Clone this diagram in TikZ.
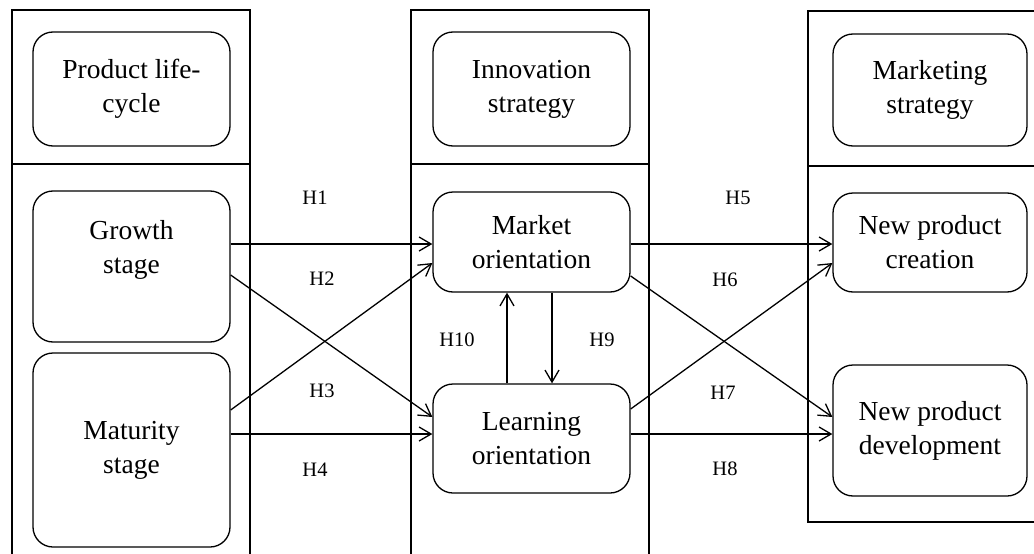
\documentclass[tikz,border=0pt]{standalone}
\usepackage{fontspec}
\setmainfont{Liberation Serif}
\usetikzlibrary{arrows.meta}
\begin{document}
\begin{tikzpicture}[x=1pt,y=-1pt,
  frame/.style={line width=1.3pt},
  rbox/.style={draw, line width=1.3pt, rounded corners=20pt, inner sep=0pt, align=center,
    font=\fontsize{27.5}{34}\selectfont},
  hlab/.style={font=\fontsize{20.5}{24}\selectfont, inner sep=0pt},
  arr/.style={line width=1.3pt, -{Straight Barb[length=12pt,width=14pt,line width=1.3pt]}}
]
\useasboundingbox (0,0) rectangle (1034,554);
% column frames
\draw[frame] (12,554) -- (12,10) -- (250,10) -- (250,554);
\draw[frame] (12,164) -- (250,164);
\draw[frame] (411,554) -- (411,10) -- (649,10) -- (649,554);
\draw[frame] (411,164) -- (649,164);
\draw[frame] (1034,11) -- (808,11) -- (808,522) -- (1034,522);
\draw[frame] (808,166) -- (1034,166);
% header boxes
\node[rbox, minimum width=197pt, minimum height=114pt] (plc) at (131.5,89) {Product life-\\cycle};
\node[rbox, minimum width=197pt, minimum height=114pt] (ins) at (531.5,89) {Innovation\\strategy};
\node[rbox, minimum width=194pt, minimum height=112pt] (mks) at (930,90) {Marketing\\strategy};
% content boxes
\node[rbox, minimum width=197pt, minimum height=151pt] (gs) at (131.5,266.5) {Growth\\stage\\\vphantom{g}};
\node[rbox, minimum width=197pt, minimum height=194pt] (ms) at (131.5,450) {Maturity\\stage};
\node[rbox, minimum width=197pt, minimum height=100pt] (mo) at (531.5,242) {Market\\orientation};
\node[rbox, minimum width=197pt, minimum height=109pt] (lo) at (531.5,438.5) {Learning\\orientation};
\node[rbox, minimum width=194pt, minimum height=99pt] (npc) at (930,242.5) {New product\\creation};
\node[rbox, minimum width=194pt, minimum height=131pt] (npd) at (930,430.5) {New product\\development};
% arrows
\coordinate (a1) at ([yshift=22.5pt]gs.east);
\draw[arr] (a1) -- (a1 -| mo.west);
\draw[arr] ([yshift=-8.5pt]gs.east) -- ([yshift=21.5pt]lo.west);
\draw[arr] ([yshift=40pt]ms.east) -- ([yshift=-21pt]mo.west);
\coordinate (a4) at ([yshift=16pt]ms.east);
\draw[arr] (a4) -- (a4 -| lo.west);
\coordinate (a5) at ([yshift=-2pt]mo.east);
\draw[arr] (a5) -- (a5 -| npc.west);
\draw[arr] ([yshift=-34pt]mo.east) -- ([yshift=13.5pt]npd.west);
\draw[arr] ([yshift=29.5pt]lo.east) -- ([yshift=-20.5pt]npc.west);
\coordinate (a8) at ([yshift=4.5pt]lo.east);
\draw[arr] (a8) -- (a8 -| npd.west);
\coordinate (a10) at ([xshift=-24.5pt]lo.north);
\draw[arr] (a10) -- (a10 |- mo.south);
\coordinate (a9) at ([xshift=20.5pt]mo.south);
\draw[arr] (a9) -- (a9 |- lo.north);
% labels
\node[hlab] (h1) at (315,198) {H1};
\node[hlab] (h2) at (322,279) {H2};
\node[hlab] (h3) at (322,391) {H3};
\node[hlab] (h4) at (315,470) {H4};
\node[hlab] (h5) at (738,198) {H5};
\node[hlab] (h6) at (725,280) {H6};
\node[hlab] (h7) at (723,393) {H7};
\node[hlab] (h8) at (725,469) {H8};
\node[hlab] (h10) at (457,340) {H10};
\node[hlab] (h9) at (602,340) {H9};
\end{tikzpicture}
\end{document}
